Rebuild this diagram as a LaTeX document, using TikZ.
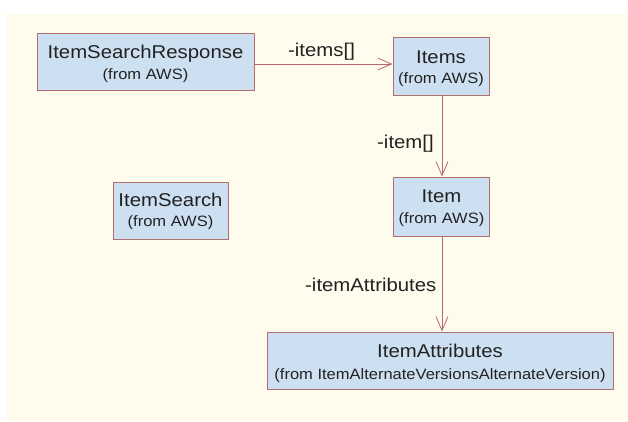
\documentclass[tikz,border=0pt]{standalone}
\usepackage{fontspec}
\setmainfont{Liberation Sans}[FakeStretch=1.1]
\usetikzlibrary{arrows.meta,calc}
\definecolor{bgcream}{HTML}{FFFCEE}
\definecolor{boxfill}{HTML}{CDE0F2}
\definecolor{boxline}{HTML}{B26E70}
\definecolor{linkcol}{HTML}{B5676A}
\definecolor{txt}{HTML}{222222}
\tikzset{
  classbox/.style={draw=boxline, line width=0.9pt, fill=boxfill, inner sep=0pt, anchor=center},
  ctitle/.style={text=txt, font=\fontsize{18.5}{22}\selectfont, inner sep=0pt, anchor=base},
  csub/.style={text=txt, font=\fontsize{15}{18}\selectfont, inner sep=0pt, anchor=base},
  assoc/.style={draw=linkcol, line width=0.8pt, -{Straight Barb[length=14pt,width=12pt,line width=0.8pt]}},
  role/.style={text=txt, font=\fontsize{18.5}{22}\selectfont, inner sep=0pt, anchor=base west}
}
\begin{document}
\begin{tikzpicture}[x=1pt,y=-1pt]
\useasboundingbox (0,0) rectangle (628,421);
\fill[bgcream] (7,14) rectangle (628,421);
% boxes
\node[classbox, minimum width=217pt, minimum height=57pt] (isr) at (145.5,61.5) {};
\node[classbox, minimum width=96pt, minimum height=58pt] (items) at (441,66) {};
\node[classbox, minimum width=96pt, minimum height=59pt] (item) at (441.5,206.5) {};
\node[classbox, minimum width=115pt, minimum height=57pt] (search) at (170.5,210.5) {};
\node[classbox, minimum width=346pt, minimum height=57pt] (attr) at (440,360.5) {};
% texts
\node[ctitle] (isr-t) at ($(isr.center)+(0,-3.5)$) {ItemSearchResponse};
\node[csub] (isr-s) at ($(isr.center)+(0,17.5)$) {(from AWS)};
\node[ctitle] (items-t) at ($(items.center)+(0,-3)$) {Items};
\node[csub] (items-s) at ($(items.center)+(0,17)$) {(from AWS)};
\node[ctitle] (item-t) at ($(item.center)+(0,-4)$) {Item};
\node[csub] (item-s) at ($(item.center)+(0,16.5)$) {(from AWS)};
\node[ctitle] (search-t) at ($(search.center)+(0,-4.5)$) {ItemSearch};
\node[csub] (search-s) at ($(search.center)+(0,15.5)$) {(from AWS)};
\node[ctitle] (attr-t) at ($(attr.center)+(0,-3.5)$) {ItemAttributes};
\node[csub] (attr-s) at ($(attr.center)+(0,18.5)$) {(from ItemAlternateVersionsAlternateVersion)};
% connectors
\draw[assoc] (isr.east |- 0,64) -- (items.west |- 0,64);
\draw[assoc] (items.south -| 442,0) -- (item.north -| 442,0);
\draw[assoc] (item.south -| 442,0) -- (attr.north -| 442,0);
% role labels
\node[role] (l1) at (288,56) {-items[]};
\node[role] (l2) at (377,148) {-item[]};
\node[role] (l3) at (305,291) {-itemAttributes};
\end{tikzpicture}
\end{document}
